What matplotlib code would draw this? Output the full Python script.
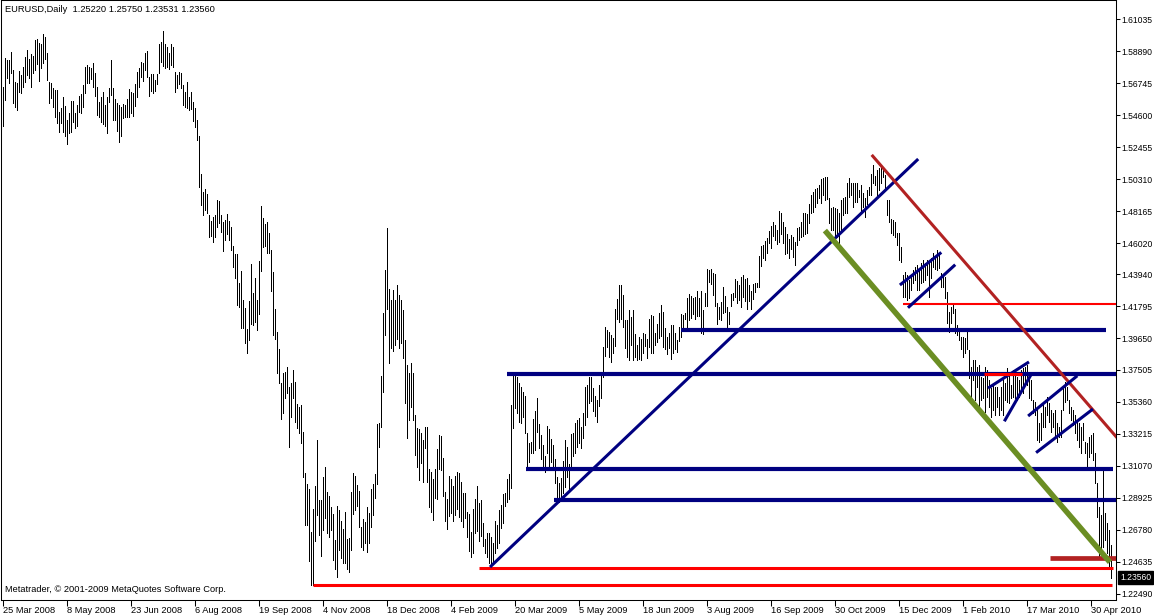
import matplotlib
matplotlib.use("Agg")
import matplotlib.pyplot as plt
import matplotlib.transforms as mtransforms

# ---------------- data ----------------
header = "EURUSD,Daily  1.25220 1.25750 1.23531 1.23560"
copyright_text = "Metatrader, \u00a9 2001-2009 MetaQuotes Software Corp."

highs = [
    1.5649, 1.5843, 1.5830, 1.5830, 1.5885, 1.5763, 1.5683, 1.5676, 1.5756, 1.5729,
    1.5783, 1.5850, 1.5898, 1.5837, 1.5871, 1.5857, 1.5965, 1.5972, 1.5945, 1.5938,
    1.6005, 1.5985, 1.5878, 1.5683, 1.5676, 1.5643, 1.5629, 1.5629, 1.5482, 1.5508,
    1.5582, 1.5522, 1.5428, 1.5475, 1.5555, 1.5555, 1.5475, 1.5528, 1.5589, 1.5602,
    1.5663, 1.5783, 1.5797, 1.5783, 1.5776, 1.5810, 1.5743, 1.5649, 1.5548, 1.5582,
    1.5616, 1.5528, 1.5582, 1.5643, 1.5830, 1.5643, 1.5569, 1.5542, 1.5528, 1.5515,
    1.5535, 1.5528, 1.5569, 1.5636, 1.5616, 1.5609, 1.5669, 1.5750, 1.5776, 1.5817,
    1.5810, 1.5878, 1.5891, 1.5716, 1.5736, 1.5736, 1.5696, 1.5736, 1.5938, 1.5951,
    1.6025, 1.5938, 1.5918, 1.5878, 1.5938, 1.5918, 1.5750, 1.5729, 1.5750, 1.5743,
    1.5663, 1.5616, 1.5683, 1.5582, 1.5616, 1.5548, 1.5508, 1.5428, 1.5321, 1.5065,
    1.4945, 1.4965, 1.4931, 1.4790, 1.4750, 1.4777, 1.4790, 1.4891, 1.4884, 1.4790,
    1.4743, 1.4757, 1.4797, 1.4750, 1.4710, 1.4583, 1.4529, 1.4529, 1.4334, 1.4415,
    1.4220, 1.4166, 1.4025, 1.4213, 1.4462, 1.4267, 1.4368, 1.4220, 1.4482, 1.4851,
    1.4770, 1.4730, 1.4743, 1.4670, 1.4556, 1.4408, 1.4160, 1.4005, 1.3891, 1.3663,
    1.3730, 1.3737, 1.3770, 1.3636, 1.3663, 1.3750, 1.3670, 1.3522, 1.3502, 1.3515,
    1.3334, 1.3059, 1.2985, 1.2952, 1.2663, 1.2818, 1.2972, 1.3281, 1.2878, 1.2878,
    1.3032, 1.3099, 1.2932, 1.2905, 1.2831, 1.2784, 1.2610, 1.2838, 1.2811, 1.2737,
    1.2684, 1.2798, 1.2617, 1.2623, 1.2932, 1.3059, 1.3039, 1.2979, 1.2938, 1.2697,
    1.2751, 1.2730, 1.2831, 1.2791, 1.2952, 1.2985, 1.3052, 1.3388, 1.3395, 1.3710,
    1.4133, 1.4421, 1.4703, 1.4294, 1.4220, 1.4287, 1.4220, 1.4321, 1.4254, 1.4220,
    1.4153, 1.3952, 1.3784, 1.3730, 1.3797, 1.3730, 1.3448, 1.3361, 1.3354, 1.3328,
    1.3281, 1.3368, 1.3368, 1.3086, 1.3066, 1.3019, 1.3086, 1.3220, 1.3314, 1.3308,
    1.3160, 1.2932, 1.2885, 1.3039, 1.3019, 1.2972, 1.3039, 1.3066, 1.3059, 1.2999,
    1.2925, 1.2925, 1.2798, 1.2784, 1.2663, 1.2818, 1.2885, 1.2972, 1.2858, 1.2878,
    1.2724, 1.2617, 1.2657, 1.2657, 1.2630, 1.2590, 1.2737, 1.2710, 1.2811, 1.2845,
    1.2918, 1.2925, 1.3019, 1.3052, 1.3515, 1.3717, 1.3717, 1.3703, 1.3663, 1.3636,
    1.3603, 1.3576, 1.3328, 1.3261, 1.3267, 1.3421, 1.3475, 1.3562, 1.3388, 1.3314,
    1.3247, 1.3173, 1.3375, 1.3354, 1.3287, 1.3247, 1.3153, 1.3032, 1.2992, 1.3025,
    1.3140, 1.3281, 1.3234, 1.3120, 1.3321, 1.3328, 1.3395, 1.3415, 1.3428, 1.3368,
    1.3462, 1.3636, 1.3650, 1.3703, 1.3703, 1.3630, 1.3576, 1.3549, 1.3650, 1.3730,
    1.3905, 1.4039, 1.4019, 1.4005, 1.3985, 1.3965, 1.4159, 1.4227, 1.4321, 1.4321,
    1.4254, 1.4086, 1.4086, 1.4153, 1.4106, 1.4153, 1.3992, 1.3918, 1.3972, 1.3959,
    1.3999, 1.3992, 1.3959, 1.4093, 1.4119, 1.4113, 1.3999, 1.4059, 1.4133, 1.4186,
    1.4140, 1.4032, 1.3972, 1.3999, 1.4052, 1.4052, 1.3999, 1.3952, 1.4039, 1.4126,
    1.4119, 1.4133, 1.4233, 1.4260, 1.4247, 1.4233, 1.4240, 1.4280, 1.4233, 1.4280,
    1.4153, 1.4267, 1.4428, 1.4421, 1.4428, 1.4401, 1.4394, 1.4200, 1.4173, 1.4207,
    1.4307, 1.4247, 1.4173, 1.4140, 1.4260, 1.4267, 1.4361, 1.4348, 1.4321, 1.4374,
    1.4388, 1.4361, 1.4368, 1.4321, 1.4280, 1.4327, 1.4334, 1.4334, 1.4515, 1.4583,
    1.4589, 1.4616, 1.4636, 1.4683, 1.4717, 1.4743, 1.4723, 1.4690, 1.4817, 1.4804,
    1.4743, 1.4710, 1.4663, 1.4630, 1.4656, 1.4643, 1.4609, 1.4703, 1.4710, 1.4743,
    1.4804, 1.4804, 1.4797, 1.4864, 1.4925, 1.4945, 1.4965, 1.4972, 1.4992, 1.5032,
    1.5039, 1.5045, 1.5045, 1.4905, 1.4837, 1.4844, 1.4837, 1.4831, 1.4804, 1.4891,
    1.4905, 1.4911, 1.5005, 1.5039, 1.5005, 1.5005, 1.5005, 1.5005, 1.4958, 1.4992,
    1.4938, 1.4905, 1.4958, 1.4978, 1.5065, 1.5126, 1.5052, 1.5092, 1.5106, 1.5126,
    1.5099, 1.5059, 1.4891, 1.4891, 1.4763, 1.4757, 1.4743, 1.4670, 1.4670, 1.4576,
    1.4388, 1.4408, 1.4388, 1.4354, 1.4388, 1.4421, 1.4441, 1.4455, 1.4435, 1.4468,
    1.4488, 1.4468, 1.4488, 1.4488, 1.4502, 1.4535, 1.4509, 1.4556, 1.4535, 1.4401,
    1.4374, 1.4374, 1.4274, 1.4140, 1.4173, 1.4186, 1.4160, 1.4052, 1.4032, 1.3972,
    1.3972, 1.3965, 1.4005, 1.3885, 1.3770, 1.3817, 1.3817, 1.3770, 1.3784, 1.3703,
    1.3697, 1.3770, 1.3750, 1.3683, 1.3630, 1.3663, 1.3636, 1.3636, 1.3569, 1.3636,
    1.3683, 1.3663, 1.3764, 1.3717, 1.3650, 1.3750, 1.3737, 1.3703, 1.3683, 1.3750,
    1.3764, 1.3770, 1.3784, 1.3697, 1.3683, 1.3549, 1.3535, 1.3502, 1.3395, 1.3462,
    1.3515, 1.3502, 1.3569, 1.3529, 1.3482, 1.3462, 1.3482, 1.3395, 1.3368, 1.3482,
    1.3630, 1.3670, 1.3636, 1.3549, 1.3502, 1.3482, 1.3448, 1.3415, 1.3395, 1.3368,
    1.3395, 1.3267, 1.3261, 1.3301, 1.3314, 1.3328, 1.3194, 1.2992, 1.2831, 1.2777,
    1.3079, 1.2791, 1.2724, 1.2677, 1.2575,
]

lows = [
    1.5388, 1.5562, 1.5709, 1.5676, 1.5743, 1.5542, 1.5515, 1.5495, 1.5616, 1.5609,
    1.5649, 1.5683, 1.5729, 1.5709, 1.5649, 1.5743, 1.5763, 1.5803, 1.5689, 1.5776,
    1.5810, 1.5837, 1.5696, 1.5542, 1.5575, 1.5515, 1.5448, 1.5408, 1.5348, 1.5408,
    1.5348, 1.5321, 1.5267, 1.5341, 1.5348, 1.5415, 1.5374, 1.5388, 1.5482, 1.5475,
    1.5515, 1.5609, 1.5676, 1.5676, 1.5703, 1.5649, 1.5589, 1.5461, 1.5448, 1.5415,
    1.5401, 1.5388, 1.5341, 1.5548, 1.5596, 1.5428, 1.5428, 1.5354, 1.5280, 1.5321,
    1.5441, 1.5448, 1.5448, 1.5448, 1.5475, 1.5455, 1.5522, 1.5582, 1.5649, 1.5716,
    1.5689, 1.5763, 1.5716, 1.5589, 1.5622, 1.5609, 1.5622, 1.5669, 1.5743, 1.5817,
    1.5790, 1.5776, 1.5783, 1.5770, 1.5797, 1.5783, 1.5616, 1.5643, 1.5669, 1.5643,
    1.5528, 1.5515, 1.5508, 1.5495, 1.5501, 1.5421, 1.5381, 1.5294, 1.4978, 1.4857,
    1.4790, 1.4824, 1.4804, 1.4643, 1.4650, 1.4609, 1.4643, 1.4710, 1.4737, 1.4676,
    1.4549, 1.4623, 1.4663, 1.4623, 1.4556, 1.4441, 1.4368, 1.4186, 1.4173, 1.4032,
    1.4032, 1.3932, 1.3865, 1.3952, 1.4059, 1.4052, 1.4072, 1.4019, 1.4126, 1.4415,
    1.4576, 1.4583, 1.4535, 1.4535, 1.4280, 1.3985, 1.3959, 1.3730, 1.3663, 1.3421,
    1.3462, 1.3562, 1.3596, 1.3234, 1.3435, 1.3562, 1.3402, 1.3361, 1.3328, 1.3261,
    1.3032, 1.2710, 1.2710, 1.2469, 1.2307, 1.2307, 1.2603, 1.2777, 1.2643, 1.2503,
    1.2677, 1.2757, 1.2657, 1.2630, 1.2677, 1.2476, 1.2415, 1.2361, 1.2543, 1.2489,
    1.2455, 1.2455, 1.2415, 1.2395, 1.2543, 1.2784, 1.2811, 1.2838, 1.2697, 1.2563,
    1.2543, 1.2590, 1.2529, 1.2590, 1.2697, 1.2777, 1.2891, 1.2985, 1.3234, 1.3368,
    1.3603, 1.3985, 1.4159, 1.3797, 1.3898, 1.3878, 1.3918, 1.3959, 1.3898, 1.3932,
    1.3831, 1.3529, 1.3294, 1.3415, 1.3502, 1.3415, 1.3180, 1.3099, 1.3012, 1.3126,
    1.2999, 1.3227, 1.2999, 1.2831, 1.2798, 1.2744, 1.2891, 1.2885, 1.3086, 1.3079,
    1.2905, 1.2737, 1.2684, 1.2771, 1.2791, 1.2737, 1.2777, 1.2818, 1.2764, 1.2737,
    1.2697, 1.2757, 1.2630, 1.2536, 1.2496, 1.2523, 1.2657, 1.2670, 1.2603, 1.2637,
    1.2570, 1.2523, 1.2496, 1.2455, 1.2430, 1.2455, 1.2523, 1.2556, 1.2590, 1.2690,
    1.2724, 1.2838, 1.2865, 1.2885, 1.2958, 1.3361, 1.3495, 1.3462, 1.3402, 1.3395,
    1.3435, 1.3328, 1.3093, 1.3133, 1.3194, 1.3194, 1.3214, 1.3334, 1.3227, 1.3153,
    1.3106, 1.3066, 1.3194, 1.3093, 1.3133, 1.3093, 1.2992, 1.2898, 1.2865, 1.2878,
    1.2925, 1.2965, 1.3032, 1.2945, 1.3099, 1.3173, 1.3194, 1.3234, 1.3261, 1.3227,
    1.3294, 1.3381, 1.3435, 1.3529, 1.3542, 1.3475, 1.3441, 1.3402, 1.3509, 1.3562,
    1.3703, 1.3844, 1.3905, 1.3838, 1.3804, 1.3865, 1.3911, 1.4093, 1.4072, 1.4093,
    1.4039, 1.3898, 1.3838, 1.3817, 1.3918, 1.3817, 1.3838, 1.3817, 1.3824, 1.3817,
    1.3865, 1.3911, 1.3831, 1.3905, 1.3865, 1.3865, 1.3918, 1.3938, 1.3965, 1.3979,
    1.3905, 1.3891, 1.3858, 1.3898, 1.3824, 1.3865, 1.3891, 1.3871, 1.3945, 1.3972,
    1.4032, 1.4093, 1.4032, 1.4086, 1.4099, 1.4126, 1.4093, 1.4113, 1.4113, 1.3999,
    1.3992, 1.4180, 1.4180, 1.4341, 1.4327, 1.4254, 1.4180, 1.4059, 1.4093, 1.4086,
    1.4133, 1.4140, 1.4019, 1.4059, 1.4180, 1.4220, 1.4240, 1.4200, 1.4220, 1.4173,
    1.4240, 1.4213, 1.4160, 1.4213, 1.4160, 1.4227, 1.4274, 1.4307, 1.4307, 1.4448,
    1.4502, 1.4488, 1.4535, 1.4603, 1.4569, 1.4650, 1.4623, 1.4596, 1.4609, 1.4663,
    1.4603, 1.4529, 1.4535, 1.4502, 1.4562, 1.4509, 1.4455, 1.4589, 1.4623, 1.4643,
    1.4650, 1.4663, 1.4670, 1.4737, 1.4804, 1.4811, 1.4844, 1.4871, 1.4905, 1.4871,
    1.4925, 1.4891, 1.4898, 1.4737, 1.4690, 1.4690, 1.4650, 1.4643, 1.4603, 1.4676,
    1.4790, 1.4804, 1.4804, 1.4911, 1.4925, 1.4844, 1.4878, 1.4878, 1.4911, 1.4804,
    1.4844, 1.4777, 1.4864, 1.4925, 1.4925, 1.5005, 1.4992, 1.4925, 1.4958, 1.5005,
    1.5045, 1.4972, 1.4790, 1.4743, 1.4670, 1.4656, 1.4643, 1.4589, 1.4488, 1.4475,
    1.4240, 1.4240, 1.4220, 1.4233, 1.4287, 1.4334, 1.4354, 1.4287, 1.4287, 1.4334,
    1.4341, 1.4354, 1.4388, 1.4240, 1.4368, 1.4441, 1.4428, 1.4421, 1.4435, 1.4307,
    1.4307, 1.4233, 1.4066, 1.4005, 1.4066, 1.4133, 1.3999, 1.3985, 1.3952, 1.3891,
    1.3838, 1.3865, 1.3891, 1.3696, 1.3569, 1.3683, 1.3549, 1.3636, 1.3502, 1.3549,
    1.3562, 1.3468, 1.3569, 1.3502, 1.3435, 1.3482, 1.3448, 1.3502, 1.3448, 1.3482,
    1.3448, 1.3549, 1.3535, 1.3529, 1.3562, 1.3569, 1.3562, 1.3549, 1.3569, 1.3630,
    1.3596, 1.3670, 1.3650, 1.3562, 1.3549, 1.3462, 1.3448, 1.3281, 1.3267, 1.3281,
    1.3368, 1.3368, 1.3448, 1.3402, 1.3334, 1.3368, 1.3301, 1.3267, 1.3301, 1.3301,
    1.3482, 1.3535, 1.3549, 1.3462, 1.3415, 1.3381, 1.3328, 1.3281, 1.3234, 1.3194,
    1.3281, 1.3194, 1.3099, 1.3166, 1.3194, 1.3146, 1.2992, 1.2764, 1.2496, 1.2523,
    1.2563, 1.2610, 1.2523, 1.2428, 1.2353,
]

date_labels = ["25 Mar 2008", "8 May 2008", "23 Jun 2008", "6 Aug 2008", "19 Sep 2008",
               "4 Nov 2008", "18 Dec 2008", "4 Feb 2009", "20 Mar 2009", "5 May 2009",
               "18 Jun 2009", "3 Aug 2009", "16 Sep 2009", "30 Oct 2009", "15 Dec 2009",
               "1 Feb 2010", "17 Mar 2010", "30 Apr 2010"]
date_label_bars = [0, 32, 64, 96, 128, 160, 192, 224, 256, 288, 320, 352, 384, 416,
                   448, 480, 512, 544]

price_ticks = [1.61035, 1.58890, 1.56745, 1.54600, 1.52455, 1.50310, 1.48165, 1.46020,
               1.43940, 1.41795, 1.39650, 1.37505, 1.35360, 1.33215, 1.31070, 1.28925,
               1.26780, 1.24635, 1.22490]
last_price = 1.23560

# horizontal levels: (price, first bar, last bar)
red_levels = [(1.2308, 155.2, 554.7), (1.2424, 238.2, 555.2)]
thin_red_levels = [(1.4193, 450.2, 556.7)]
short_red_levels = [(1.3723, 490.7, 509.5)]
firebrick_levels = [(1.2487, 523.7, 556.7)]
navy_levels = [(1.4022, 339.2, 551.7), (1.3723, 252.2, 556.7),
               (1.3084, 261.4, 555.2), (1.2878, 275.7, 556.7)]

# trend lines: (bar0, price0, bar1, price1)
navy_trend = [(244.2, 1.2435, 457.2, 1.5159)]
green_trend = [(412.0, 1.4672, 552.7, 1.2475)]
firebrick_trend = [(435.0, 1.5186, 556.7, 1.3303)]
flag_lines = [(449.2, 1.4327, 468.7, 1.4533), (453.2, 1.4175, 475.7, 1.4450),
              (493.3, 1.3634, 512.5, 1.3799), (501.2, 1.3415, 514.0, 1.3715),
              (513.3, 1.3448, 536.7, 1.3705), (517.3, 1.3202, 544.5, 1.3482)]

# ---------------- drawing ----------------
plt.rcParams['font.family'] = ['Liberation Sans', 'DejaVu Sans']
W, H = 1154, 616
fig = plt.figure(figsize=(W / 100, H / 100), dpi=100)
fig.patch.set_facecolor('white')
ax = fig.add_axes([1 / W, 16 / H, 1115 / W, 600 / H])
ax.set_facecolor('white')

bars = list(range(len(highs)))
ax.vlines(bars, lows, highs, colors='black', linewidth=0.6, antialiased=False, zorder=2)

NAVY = '#000080'
RED = '#ff0000'
FIREBRICK = '#b22222'
GREEN = '#6b8e23'

for p, a, b in navy_levels:
    ax.plot([a, b], [p, p], color=NAVY, lw=3.0, solid_capstyle='butt', zorder=3)
for p, a, b in red_levels:
    ax.plot([a, b], [p, p], color=RED, lw=2.2, solid_capstyle='butt', zorder=3)
for p, a, b in thin_red_levels:
    ax.plot([a, b], [p, p], color=RED, lw=1.5, solid_capstyle='butt', zorder=3)
for p, a, b in short_red_levels:
    ax.plot([a, b], [p, p], color=RED, lw=2.2, solid_capstyle='butt', zorder=4)
for p, a, b in firebrick_levels:
    ax.plot([a, b], [p, p], color=FIREBRICK, lw=3.4, solid_capstyle='butt', zorder=3)
for a, pa, b, pb in navy_trend:
    ax.plot([a, b], [pa, pb], color=NAVY, lw=2.2, zorder=3)
for a, pa, b, pb in green_trend:
    ax.plot([a, b], [pa, pb], color=GREEN, lw=4.0, zorder=3)
for a, pa, b, pb in firebrick_trend:
    ax.plot([a, b], [pa, pb], color=FIREBRICK, lw=2.2, zorder=3)
for a, pa, b, pb in flag_lines:
    ax.plot([a, b], [pa, pb], color=NAVY, lw=2.2, zorder=3)

ax.set_xlim(-0.85, 556.65)
ax.set_ylim(1.2207, 1.6233)

for s in ax.spines.values():
    s.set_linewidth(0.75)
    s.set_color('black')

ax.yaxis.tick_right()
ax.set_yticks(price_ticks)
ax.set_yticklabels(["%.5f" % v for v in price_ticks])
ax.tick_params(axis='y', direction='out', length=3, width=0.75, pad=1.2,
               labelsize=6.2, colors='black')
ax.set_xticks(date_label_bars)
ax.set_xticklabels(date_labels)
ax.tick_params(axis='x', direction='out', length=4, width=0.75, pad=0.5,
               labelsize=6.7, colors='black')
off = mtransforms.ScaledTranslation(0.5 / 100, 0, fig.dpi_scale_trans)
for lab in ax.get_xticklabels():
    lab.set_horizontalalignment('left')
    lab.set_transform(lab.get_transform() + off)

# current price marker on the price scale
trans = mtransforms.blended_transform_factory(ax.transAxes, ax.transData)
ax.text(1.0, last_price, "%.5f" % last_price,
        transform=trans + mtransforms.ScaledTranslation(4 / 100, 0, fig.dpi_scale_trans),
        ha='left', va='center', fontsize=6.2, color='white', zorder=6,
        bbox=dict(boxstyle='square,pad=0.25', fc='black', ec='black'), clip_on=False)

fig.text(5 / W, 1 - 10 / H, header, ha='left', va='center', fontsize=6.7, color='black')
fig.text(5 / W, 1 - 590 / H, copyright_text, ha='left', va='center', fontsize=6.7, color='black')

fig.savefig("out.png", dpi=100, facecolor='white')
